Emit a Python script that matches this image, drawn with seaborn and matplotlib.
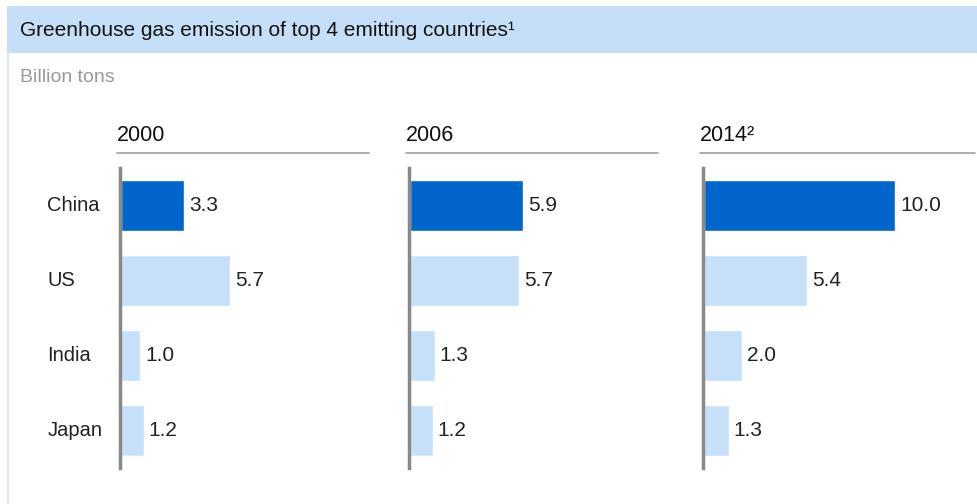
import pandas as pd
import matplotlib.pyplot as plt
import seaborn as sns
from matplotlib.patches import Rectangle
from matplotlib.lines import Line2D

# Datos
countries = ['China', 'US', 'India', 'Japan']
years = ['2000', '2006', '2014²']
em_2000 = [3.3, 5.7, 1.0, 1.2]
em_2006 = [5.9, 5.7, 1.3, 1.2]
em_2014 = [10.0, 5.4, 2.0, 1.3]
values = [em_2000, em_2006, em_2014]

title = 'Greenhouse gas emission of top 4 emitting countries¹'
unit = 'Billion tons'

dark_blue = '#0066CC'
light_blue = '#C7E0FA'
banner = '#C6DFF8'
palette = [dark_blue, light_blue, light_blue, light_blue]

sns.set_style('white')
plt.rcParams['font.family'] = ['Liberation Sans', 'DejaVu Sans']

W, H = 977, 504
fig = plt.figure(figsize=(W / 100, H / 100), dpi=100)

def px_box(x0, y0, x1, y1):
    # pixeles (origen arriba-izq) -> coordenadas de figura
    return [x0 / W, 1 - y1 / H, (x1 - x0) / W, (y1 - y0) / H]

# --- Banda del titulo y borde izquierdo ---
fig.patches.append(Rectangle((7 / W, 1 - 53 / H), 970 / W, 47 / H,
                             transform=fig.transFigure, facecolor=banner,
                             edgecolor='none', zorder=0))
fig.lines.append(Line2D([7.5 / W, 7.5 / W], [0, 1 - 53 / H], transform=fig.transFigure,
                        color='#D3E6FA', lw=1.5))
fig.text(20 / W, 1 - 31 / H, title, fontsize=15, color='#111111', va='center', ha='left')
fig.text(20 / W, 1 - 78 / H, unit, fontsize=14, color='#9A9A9A', va='center', ha='left')

# --- Paneles ---
px_per_unit = 19.2
panels = [(120, 369), (409, 658), (703, 975)]
for i, (x0, x1) in enumerate(panels):
    ax = fig.add_axes(px_box(x0, 168, x1, 468))
    df = pd.DataFrame({'country': countries, 'value': values[i]})
    sns.barplot(data=df, x='value', y='country', hue='country', palette=palette,
                order=countries, hue_order=countries, width=0.67, legend=False,
                saturation=1, ax=ax, orient='h')
    for c in ax.containers:
        ax.bar_label(c, fmt='%.1f', padding=3.5, fontsize=15, color='#222222')
    ax.set_xlim(-0.05, (x1 - x0) / px_per_unit)
    ax.set_ylim(3.5, -0.5)
    ax.set_xlabel('')
    ax.set_ylabel('')
    ax.set_xticks([])
    ax.set_yticks([])
    sns.despine(ax=ax, top=True, right=True, bottom=True, left=False)
    ax.spines['left'].set_color('#888888')
    ax.spines['left'].set_linewidth(2.5)
    ax.patch.set_alpha(0)

    # Cabecera del anio con linea inferior
    fig.text((x0 - 3) / W, 1 - 136 / H, years[i], fontsize=15.5, color='#111111',
             va='center', ha='left')
    fig.lines.append(Line2D([(x0 - 3) / W, x1 / W], [1 - 153 / H, 1 - 153 / H],
                            transform=fig.transFigure, color='#A0A0A0', lw=1.2))

    if i == 0:
        for j, name in enumerate(countries):
            ax.text(-74 / px_per_unit, j, name, fontsize=14.5, color='#222222',
                    va='center', ha='left')

fig.savefig('out.png', dpi=100)
